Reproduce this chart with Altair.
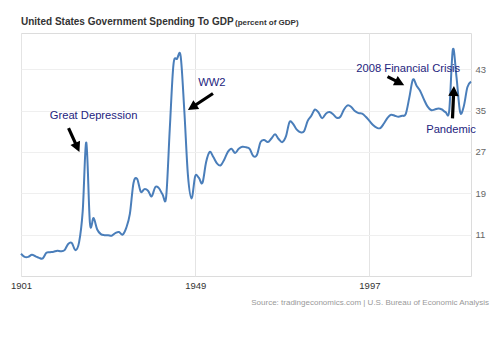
import math
import altair as alt
import pandas as pd

FONT = "Liberation Sans, Arial, Helvetica, sans-serif"

# ---------------- data ----------------
years = list(range(1901, 2026))
spending = [
    7.3, 6.7, 6.7, 7.1, 6.8, 6.5, 6.4, 7.5, 7.6, 7.7,        # 1901-1910
    7.9, 7.8, 8.0, 9.2, 9.4, 8.0, 9.5, 15.5, 28.8, 13.2,     # 1911-1920
    14.2, 12.0, 11.1, 10.9, 10.9, 10.8, 11.3, 11.5, 11.0, 12.3,  # 1921-1930
    15.0, 21.0, 21.8, 19.3, 19.8, 19.5, 18.4, 20.2, 20.0, 18.8,  # 1931-1940
    18.3, 31.5, 43.8, 45.0, 45.5, 35.0, 22.5, 18.0, 22.3, 22.0,  # 1941-1950
    21.0, 25.0, 27.0, 26.0, 24.8, 24.4, 25.5, 27.0, 27.6, 26.8,  # 1951-1960
    27.6, 28.0, 27.9, 27.6, 26.2, 26.4, 28.9, 29.3, 28.9, 29.6,  # 1961-1970
    30.4, 29.5, 28.9, 30.0, 32.8, 32.4, 31.3, 30.8, 31.0, 33.0,  # 1971-1980
    34.0, 35.2, 34.6, 33.5, 34.4, 34.7, 34.3, 33.6, 33.8, 35.2,  # 1981-1990
    36.0, 35.7, 34.9, 34.5, 34.4, 33.8, 33.0, 32.2, 31.7, 31.6,  # 1991-2000
    32.5, 33.6, 34.2, 34.0, 33.8, 34.0, 34.3, 37.5, 41.0, 39.8,  # 2001-2010
    38.8, 37.2, 35.8, 35.1, 35.2, 35.4, 35.2, 34.7, 35.0, 46.8,  # 2011-2020
    41.5, 34.7, 35.8, 39.5, 40.6,                              # 2021-2025
]
x_ticks = [1901, 1949, 1997]
y_ticks = [11, 19, 27, 35, 43]

ann_labels = ["Great Depression", "WW2", "2008 Financial Crisis", "Pandemic"]
ann_year = [1921.0, 1953.6, 2007.7, 2019.5]
ann_value = [33.95, 40.27, 42.98, 31.24]

arrow_tail_year = [1914.1, 1953.9, 2002.0, 2019.9]
arrow_tail_value = [31.6, 38.3, 41.55, 33.5]
arrow_tip_year = [1917.1, 1947.0, 2006.6, 2020.3]
arrow_tip_value = [27.0, 35.1, 39.9, 39.75]

title_main = "United States Government Spending To GDP"
title_sub = "(percent of GDP)"
source_text = "Source: tradingeconomics.com | U.S. Bureau of Economic Analysis"

# ---------------- layout ----------------
W, H = 450, 243
X_DOMAIN = [1901, 2025]
Y_DOMAIN = [3, 50]

df = pd.DataFrame({"year": years, "value": spending})

x_scale = alt.Scale(domain=X_DOMAIN, nice=False, zero=False)
y_scale = alt.Scale(domain=Y_DOMAIN, nice=False, zero=False)

line = alt.Chart(df).mark_line(
    color="#4a7eba", strokeWidth=2, interpolate="cardinal"
).encode(
    x=alt.X("year:Q", scale=x_scale,
            axis=alt.Axis(values=x_ticks, format="d", title=None, orient="bottom",
                          grid=True, gridColor="#e4e4e4", domain=False, ticks=False,
                          labelColor="#333333", labelFontSize=9.5, labelFont=FONT,
                          labelPadding=4, labelFlush=False)),
    y=alt.Y("value:Q", scale=y_scale,
            axis=alt.Axis(values=y_ticks, title=None, orient="right",
                          grid=True, gridColor="#efefef", domain=False, ticks=False,
                          labelColor="#666666", labelFontSize=9.5, labelFont=FONT,
                          labelPadding=4)),
)

ann_df = pd.DataFrame({"label": ann_labels, "year": ann_year, "value": ann_value})
ann_text = alt.Chart(ann_df).mark_text(
    font=FONT, fontSize=11.2, color="#24247e", align="center", baseline="middle"
).encode(
    x=alt.X("year:Q", scale=x_scale),
    y=alt.Y("value:Q", scale=y_scale),
    text="label:N",
)

# arrows: custom symbol paths built from tail/tip positions
def to_px(yr, v):
    return ((yr - X_DOMAIN[0]) / (X_DOMAIN[1] - X_DOMAIN[0]) * W,
            (Y_DOMAIN[1] - v) / (Y_DOMAIN[1] - Y_DOMAIN[0]) * H)

rows = []
SHAFT, HEAD_W, HEAD_L = 3.2, 10.5, 10.0
for ty, tv, py_, pv in zip(arrow_tail_year, arrow_tail_value, arrow_tip_year, arrow_tip_value):
    x0, y0 = to_px(ty, tv)
    x1, y1 = to_px(py_, pv)
    dx, dy = x1 - x0, y1 - y0
    L = math.hypot(dx, dy)
    ang = math.degrees(math.atan2(dx, -dy)) % 360
    s = SHAFT / L
    w = HEAD_W / L
    hb = -1 + 2 * HEAD_L / L
    path = (f"M{-s:.4f},1L{s:.4f},1L{s:.4f},{hb:.4f}L{w:.4f},{hb:.4f}"
            f"L0,-1L{-w:.4f},{hb:.4f}L{-s:.4f},{hb:.4f}Z")
    rows.append({"year": (ty + py_) / 2, "value": (tv + pv) / 2,
                 "shape": path, "size": L * L, "angle": ang})
arrow_df = pd.DataFrame(rows)

arrows = alt.Chart(arrow_df).mark_point(
    filled=True, color="#000000", opacity=1, strokeWidth=0
).encode(
    x=alt.X("year:Q", scale=x_scale),
    y=alt.Y("value:Q", scale=y_scale),
    shape=alt.Shape("shape:N", scale=None, legend=None),
    size=alt.Size("size:Q", scale=None, legend=None),
    angle=alt.Angle("angle:Q", scale=None),
)

one = pd.DataFrame({"t": [0]})
t_main = alt.Chart(one).mark_text(
    text=title_main, font=FONT, fontSize=10, fontWeight="bold", color="#333333",
    align="left", baseline="alphabetic"
).encode(x=alt.value(0), y=alt.value(-7.7))
t_sub = alt.Chart(one).mark_text(
    text=title_sub, font=FONT, fontSize=8, fontWeight="bold", color="#333333",
    align="left", baseline="alphabetic"
).encode(x=alt.value(214), y=alt.value(-7.7))
t_src = alt.Chart(one).mark_text(
    text=source_text, font=FONT, fontSize=8, color="#999999",
    align="right", baseline="alphabetic"
).encode(x=alt.value(468), y=alt.value(271.5))

chart = alt.layer(line, ann_text, arrows, t_main, t_sub, t_src).properties(
    width=W, height=H,
    padding={"left": 21, "top": 33, "right": 26, "bottom": 63},
    autosize="none",
    background="white",
).configure_view(stroke="#dcdcdc", strokeWidth=1)

chart.save("out.html", embed_options={"renderer": "svg", "actions": False})
